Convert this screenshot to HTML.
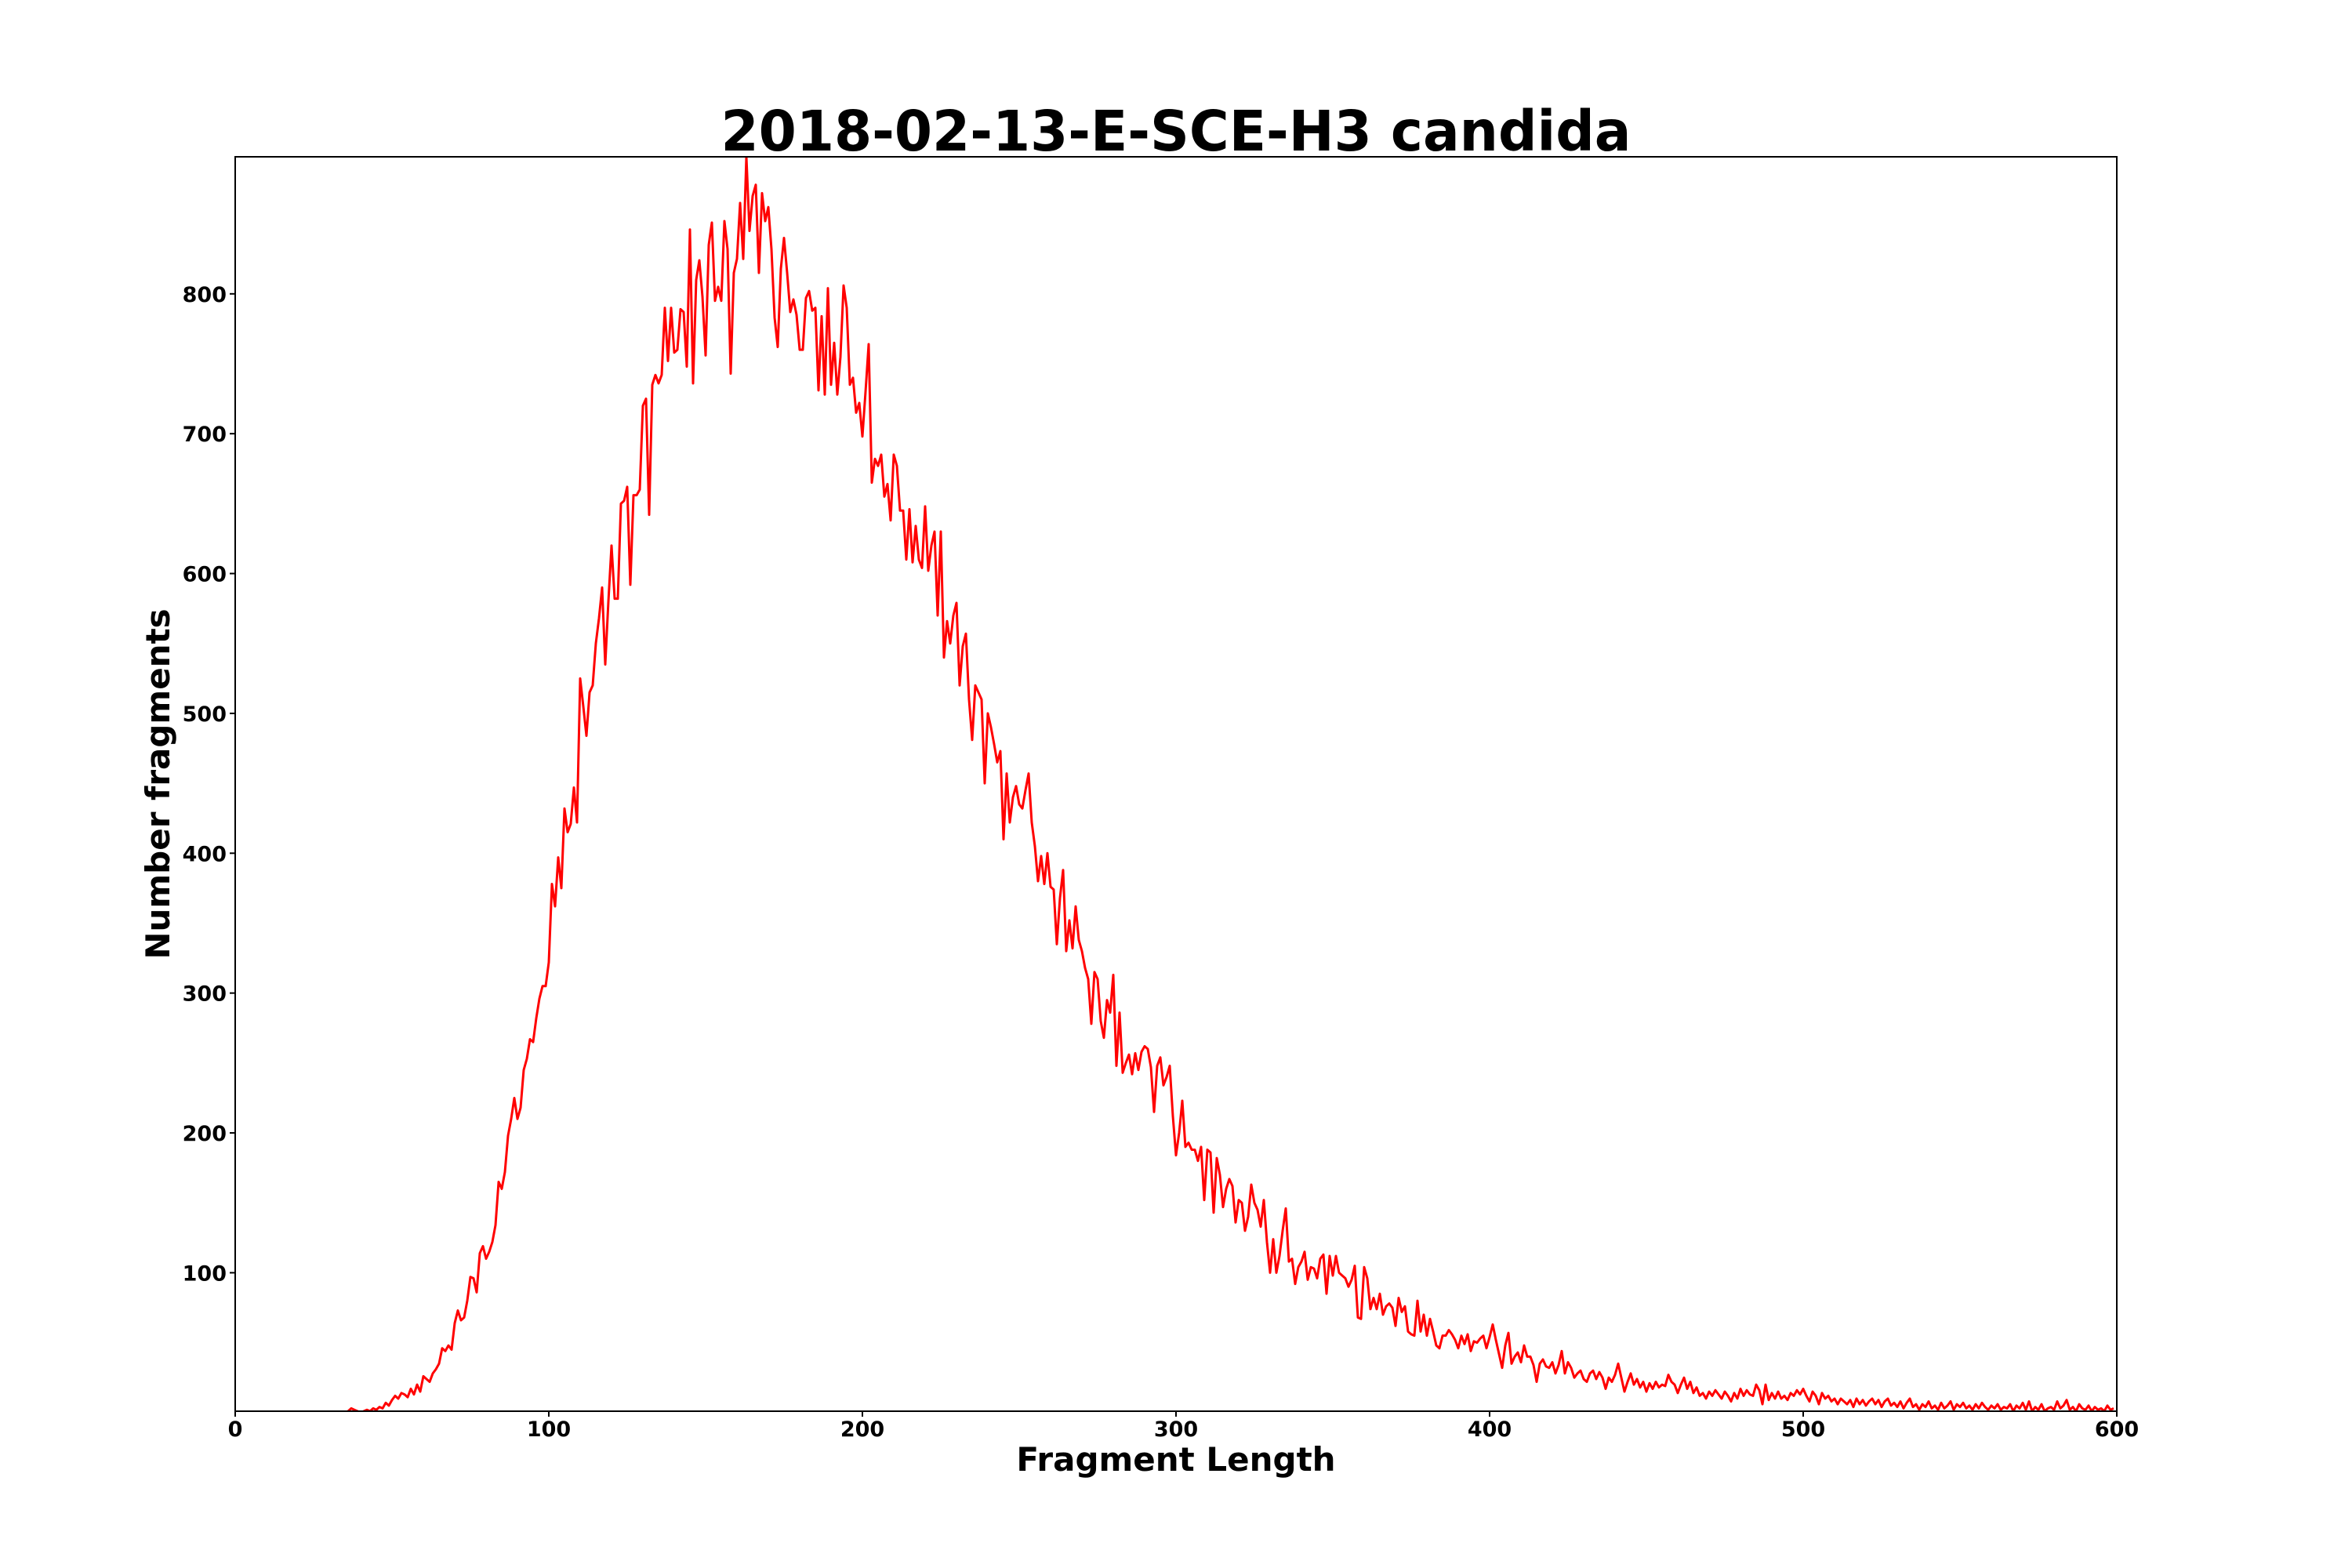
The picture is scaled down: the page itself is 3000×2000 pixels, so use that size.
<!DOCTYPE html>
<html><head><meta charset="utf-8"><style>
html,body{margin:0;padding:0;background:#fff;}
svg{display:block;font-family:"DejaVu Sans","Liberation Sans",sans-serif;font-weight:bold;}
</style></head><body>
<svg id="chart" width="3000" height="2000" viewBox="0 0 3000 2000" xmlns="http://www.w3.org/2000/svg">
<rect x="0" y="0" width="3000" height="2000" fill="#fff"/>
<text x="1500" y="192" font-size="71" text-anchor="middle" textLength="1161" lengthAdjust="spacingAndGlyphs">2018-02-13-E-SCE-H3 candida</text>
<g id="ticks"></g>
<g id="plot"></g>
<rect x="300" y="200" width="2400" height="1600" fill="none" stroke="#000" stroke-width="2"/>
<text x="1500" y="1876" font-size="42" text-anchor="middle">Fragment Length</text>
<text x="0" y="0" font-size="42" text-anchor="middle" transform="translate(216,1000) rotate(-90)">Number fragments</text>
</svg>
<script>
const xStart = 35;
const counts = [0,1,3,2,1,0,1,2,1,3,2,4,3,7,5,9,12,10,14,13,11,17,13,20,15,26,24,22,28,31,35,46,44,48,45,64,73,66,68,80,97,96,86,114,119,110,115,122,134,165,160,172,198,210,225,210,218,245,253,267,265,282,296,305,305,322,378,362,397,375,432,415,421,447,422,525,505,484,515,520,550,568,590,535,580,620,582,582,650,652,662,592,656,656,660,720,725,642,735,742,736,742,790,752,790,758,760,789,787,748,846,736,810,824,798,756,835,851,795,805,795,852,832,743,815,825,865,825,898,845,870,878,815,872,852,862,832,783,762,818,840,815,787,796,785,760,760,797,802,788,790,731,784,728,804,735,765,728,755,806,790,735,740,715,722,698,730,764,665,682,677,685,655,664,638,685,677,645,645,610,646,608,634,610,604,648,602,620,630,570,630,540,566,550,570,579,520,548,557,510,481,520,515,510,450,500,490,478,465,473,410,457,422,440,448,435,432,445,457,422,405,380,398,378,400,376,374,335,368,388,330,352,332,362,338,330,318,310,278,315,310,280,268,295,286,313,248,286,243,250,256,242,257,245,258,262,260,247,215,248,254,234,240,248,212,184,200,223,190,193,188,188,180,190,152,188,186,143,182,170,147,160,167,162,136,152,150,130,140,163,150,145,133,152,122,100,124,100,112,130,146,108,110,92,104,108,115,95,104,103,96,110,113,85,112,98,112,100,98,96,90,95,105,68,67,104,96,74,82,74,85,70,76,78,75,62,82,72,76,58,56,55,80,58,70,55,67,58,48,46,55,55,59,56,52,46,55,49,56,44,51,50,53,55,46,54,63,52,42,32,48,57,35,40,43,36,48,40,40,34,22,35,38,33,32,36,28,34,44,28,36,32,25,28,30,24,22,28,30,24,29,25,17,25,22,27,35,25,15,22,28,20,24,18,22,15,21,17,22,18,20,19,27,22,20,14,20,25,17,22,14,18,12,14,10,15,12,16,13,10,15,12,8,14,10,17,12,16,13,12,20,16,6,20,9,14,10,15,10,12,9,14,12,16,13,17,12,8,15,12,6,14,10,12,8,10,6,10,8,6,9,4,10,6,9,5,8,10,6,9,4,8,10,5,7,4,8,3,7,10,4,6,2,6,4,8,3,5,2,7,3,5,8,2,6,4,7,3,5,2,6,3,7,4,2,5,3,6,2,4,3,6,1,5,3,7,2,8,1,4,2,6,1,3,4,2,8,3,5,9,2,4,1,6,3,2,5,1,4,2,3,1,5,2,3];
const xTicks = [0,100,200,300,400,500,600];
const yTicks = [100,200,300,400,500,600,700,800];
const xMin = 0, xMax = 600, yMin = 1, yMax = 898;

const NS = 'http://www.w3.org/2000/svg';
const L = 300, R = 2700, T = 200, B = 1800;
function sx(v){ return L + (v - xMin) / (xMax - xMin) * (R - L); }
function sy(v){ return B - (v - yMin) / (yMax - yMin) * (B - T); }

const plot = document.getElementById('plot');
const ticks = document.getElementById('ticks');

const clip = document.createElementNS(NS, 'clipPath');
clip.setAttribute('id', 'plotclip');
const cr = document.createElementNS(NS, 'rect');
cr.setAttribute('x', L); cr.setAttribute('y', T); cr.setAttribute('width', R - L); cr.setAttribute('height', B - T);
clip.appendChild(cr);
plot.appendChild(clip);

let d = '';
counts.forEach((c, i) => { d += (i ? 'L' : 'M') + sx(xStart + i).toFixed(2) + ' ' + sy(c).toFixed(2); });
const path = document.createElementNS(NS, 'path');


path.setAttribute('d', d);
path.setAttribute('fill', 'none');
path.setAttribute('stroke', '#ff0000');
path.setAttribute('stroke-width', '3');
path.setAttribute('stroke-linejoin', 'round');
path.setAttribute('clip-path', 'url(#plotclip)');
plot.appendChild(path);

xTicks.forEach(v => {
  const x = sx(v);
  const ln = document.createElementNS(NS, 'line');
  
  
  ln.setAttribute('x1', x); ln.setAttribute('x2', x); ln.setAttribute('y1', B); ln.setAttribute('y2', B + 7);
  ln.setAttribute('stroke', '#000'); ln.setAttribute('stroke-width', '2');
  ticks.appendChild(ln);
  const t = document.createElementNS(NS, 'text');
  
  
  t.setAttribute('x', x); t.setAttribute('y', 1832);
  t.setAttribute('font-size', '27'); t.setAttribute('text-anchor', 'middle');
  t.textContent = v;
  ticks.appendChild(t);
});
yTicks.forEach(v => {
  const y = sy(v);
  const ln = document.createElementNS(NS, 'line');
  
  
  ln.setAttribute('x1', L - 7); ln.setAttribute('x2', L); ln.setAttribute('y1', y); ln.setAttribute('y2', y);
  ln.setAttribute('stroke', '#000'); ln.setAttribute('stroke-width', '2');
  ticks.appendChild(ln);
  const t = document.createElementNS(NS, 'text');
  
  
  t.setAttribute('x', 289); t.setAttribute('y', y + 10);
  t.setAttribute('font-size', '27'); t.setAttribute('text-anchor', 'end');
  t.textContent = v;
  ticks.appendChild(t);
});
</script>
</body></html>
